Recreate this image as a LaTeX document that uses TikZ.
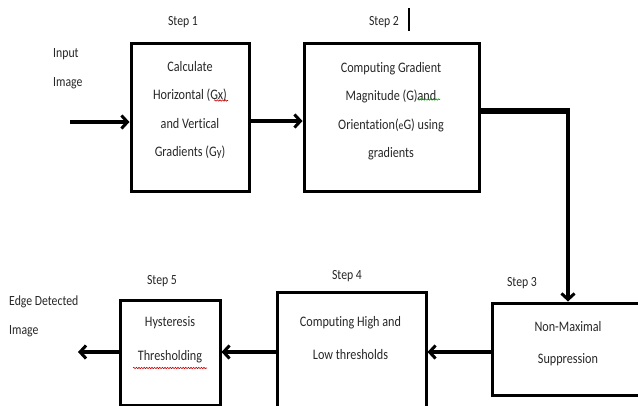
\documentclass[tikz,border=0pt]{standalone}
\usepackage{fontspec}
\setmainfont{Carlito}[FakeStretch=0.84,RawFeature=-liga]
\usetikzlibrary{arrows.meta,decorations.pathmorphing}
\begin{document}
\begin{tikzpicture}[x=1pt,y=-1pt,
  box/.style={draw,line width=3pt,inner sep=0pt},
  txt/.style={align=center,inner sep=0pt,text=black!85,font=\fontsize{14.5}{28.5}\selectfont},
  lbl/.style={inner sep=0pt,text=black!85,font=\fontsize{14}{15}\selectfont},
  arr/.style={line width=3.2pt,-{Straight Barb[length=6pt,width=13pt,line width=3pt]}},
  squig/.style={decorate,decoration={snake,amplitude=0.7pt,segment length=2.6pt},line width=0.6pt}]
\useasboundingbox (0,0) rectangle (638,405);
% boxes
\node[box,minimum width=118pt,minimum height=148pt] (b1) at (190,117) {};
\node[box,minimum width=175pt,minimum height=148pt] (b2) at (391.5,117) {};
\node[box,minimum width=150pt,minimum height=92pt] (b3) at (567,349) {};
\node[box,minimum width=149pt,minimum height=117pt] (b4) at (351.5,350.5) {};
\node[box,minimum width=100pt,minimum height=105pt] (b5) at (170,352.5) {};
% box texts
\node[txt] (t1) at (190,110) {Calculate\\Horizontal (Gx)\\and Vertical\\Gradients (G{\fontsize{12.5}{12}\selectfont y})};
\node[txt] (t2) at (391,111) {Computing Gradient\\Magnitude (G)and\\Orientation({\fontsize{11.5}{12}\selectfont e}G) using\\gradients};
\node[txt,font=\fontsize{14.5}{32}\selectfont] (t3) at (568,344) {Non-Maximal\\Suppression};
\node[txt,font=\fontsize{14.5}{33}\selectfont] (t4) at (350.5,338) {Computing High and\\Low thresholds};
\node[txt,font=\fontsize{14.5}{34}\selectfont] (t5) at (170,340) {Hysteresis\\Thresholding};
% step labels
\node[lbl] (s1) at (183,22) {Step 1};
\node[lbl] (s2) at (384,22) {Step 2};
\node[lbl] (s3) at (522,283) {Step 3};
\node[lbl] (s4) at (347,276) {Step 4};
\node[lbl] (s5) at (162,281) {Step 5};
\draw[line width=1.3pt] (409,8) -- (409,31);
% side labels
\node[lbl,anchor=west] (in1) at (53,54) {Input};
\node[lbl,anchor=west] (in2) at (53,83) {Image};
\node[lbl,anchor=west] (out1) at (9,302) {Edge Detected};
\node[lbl,anchor=west] (out2) at (9,331) {Image};
% spell-check marks
\draw[squig,red!80!black] (214,100.5) -- (228,100.5);
\draw[squig,green!60!black] (417,99.5) -- (440,99.5);
\draw[squig,red!80!black] (133,368) -- (207,368);
% connectors
\coordinate (src) at (70,122);
\coordinate (dst) at (78,352);
\coordinate (corner) at (568,111);
\draw[arr] (src) -- (src -| b1.west);
\draw[arr] ([yshift=-4pt]b1.east) -- ([yshift=-4pt]b2.east -| b2.west);
\draw[line width=6.5pt] (corner -| b2.east) -- ([xshift=1.5pt]corner);
\draw[arr] (corner) -- (corner |- b3.north);
\draw[arr] ([yshift=-3pt]b3.west) -- ([yshift=-3pt]b3.west -| b4.east);
\draw[arr] (dst -| b4.west) -- (dst -| b5.east);
\draw[arr] (dst -| b5.west) -- (dst);
\end{tikzpicture}
\end{document}
